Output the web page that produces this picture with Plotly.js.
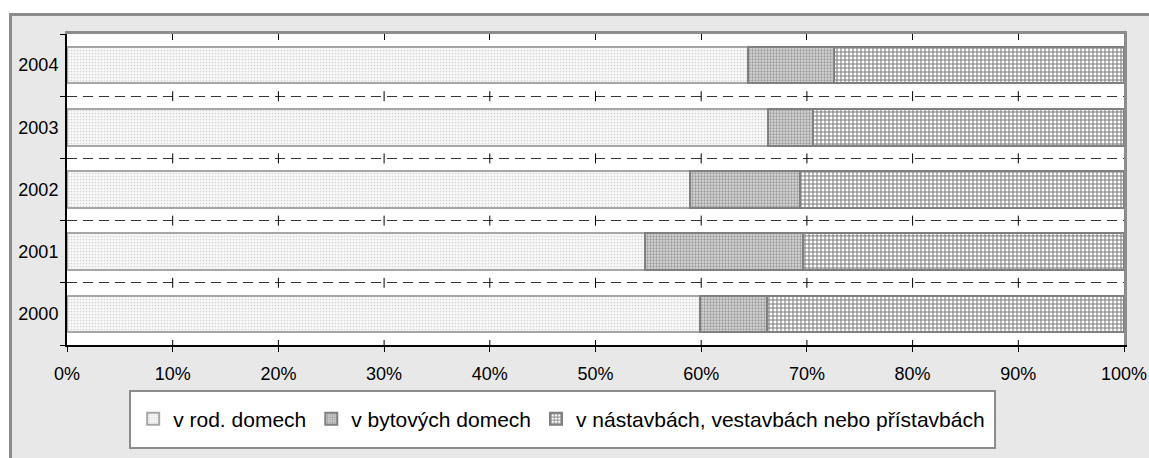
<!DOCTYPE html>
<html><head><meta charset="utf-8">
<script src="https://cdn.plot.ly/plotly-3.0.1.min.js"></script>
<style>
html,body{margin:0;padding:0;background:#fff;width:1149px;height:458px;overflow:hidden;}
#panel{position:absolute;left:9px;top:13px;width:1140px;height:445px;background:#e8e8e8;border-left:3px solid #8c8c8c;border-top:3px solid #8c8c8c;box-sizing:border-box;}
#chart{position:absolute;left:0;top:0;width:1137px;height:442px;}
</style></head><body>
<div id="panel"><div id="chart"></div></div>
<script>
// Data (percent share of completed dwellings by building type)
const years = [2000, 2001, 2002, 2003, 2004];
const rodDomy = [59.9, 54.7, 58.9, 66.3, 64.4];
const bytoveDomy = [6.3, 14.9, 10.4, 4.3, 8.2];
const nastavby = [33.8, 30.4, 30.7, 29.4, 27.4];
const seriesNames = ['v rod. domech', 'v bytových domech', 'v nástavbách, vestavbách nebo přístavbách'];
const xTicks = [0, 10, 20, 30, 40, 50, 60, 70, 80, 90, 100];
const xTickText = xTicks.map(v => v + '%');

const FONT = 'Liberation Sans, Arial, sans-serif';
const W = 0.59;

const traces = [
  {type:'bar', orientation:'h', name:seriesNames[0], y:years, x:rodDomy, width:W,
   marker:{color:'#f4f4f4', line:{color:'#a6a6a6', width:2},
     pattern:{shape:'.', fgcolor:'#d4d4d4', bgcolor:'#f8f8f8', size:3, solidity:0.25}}},
  {type:'bar', orientation:'h', name:seriesNames[1], y:years, x:bytoveDomy, width:W,
   marker:{color:'#c4c4c4', line:{color:'#808080', width:2},
     pattern:{shape:'.', fgcolor:'#9a9a9a', bgcolor:'#d8d8d8', size:3, solidity:0.45}}},
  {type:'bar', orientation:'h', name:seriesNames[2], y:years, x:nastavby, width:W,
   marker:{color:'#b0b0b0', line:{color:'#808080', width:2},
     pattern:{shape:'+', fgcolor:'#7a7a7a', bgcolor:'#ffffff', size:4, solidity:0.45}}},
  {type:'scatter', x:[], y:[], xaxis:'x2', yaxis:'y2', showlegend:false, hoverinfo:'skip'}
];

const boundaries = [];
for (let i = 0; i <= years.length; i++) boundaries.push(years[0] - 0.5 + i);
const inner = boundaries.slice(1, -1);

const shapes = [];
xTicks.slice(1, -1).forEach(x => {
  inner.forEach(b => shapes.push({type:'line', xref:'x', yref:'y', x0:x, x1:x,
    ysizemode:'pixel', yanchor:b, y0:-5, y1:5, line:{color:'#000', width:1}}));
  shapes.push({type:'line', xref:'x', yref:'y', x0:x, x1:x,
    ysizemode:'pixel', yanchor:boundaries[0], y0:0, y1:5, line:{color:'#000', width:1}});
});
// legend frame
shapes.push({type:'rect', xref:'paper', yref:'paper', x0:0.0596, x1:0.878, y0:-0.3312, y1:-0.1479,
  fillcolor:'#ffffff', line:{color:'#8c8c8c', width:2}, layer:'below'});

const layout = {
  width:1137, height:442,
  margin:{l:55, r:25, t:18, b:113},
  paper_bgcolor:'#e8e8e8', plot_bgcolor:'#ffffff',
  barmode:'stack',
  showlegend:true,
  hovermode:false,
  font:{family:FONT, color:'#000', size:18},
  xaxis:{range:[0,100], tickmode:'array', tickvals:xTicks, ticktext:xTickText,
    ticks:'outside', ticklen:5, tickwidth:1, tickcolor:'#000', ticklabelstandoff:6,
    showline:true, linecolor:'#000', linewidth:2, showgrid:false, zeroline:false,
    tickfont:{family:FONT, size:18, color:'#000'}, fixedrange:true},
  yaxis:{range:[boundaries[0], boundaries[boundaries.length-1]], tickmode:'array',
    tickvals:years, ticktext:years.map(String), ticks:'', ticklabelstandoff:3,
    showline:true, linecolor:'#000', linewidth:2, showgrid:false, zeroline:false,
    tickfont:{family:FONT, size:18, color:'#000'}, fixedrange:true,
    minor:{tickmode:'array', tickvals:boundaries, ticks:'outside', ticklen:5, tickwidth:1, tickcolor:'#000',
      showgrid:true, gridcolor:'#333', gridwidth:1, griddash:'10px,6px'}},
  xaxis2:{overlaying:'x', side:'top', anchor:'y', range:[0,100], tickmode:'array', tickvals:xTicks,
    ticks:'inside', ticklen:6, tickwidth:1, tickcolor:'#000', showticklabels:false,
    showline:true, linecolor:'#8c8c8c', linewidth:3, showgrid:false, zeroline:false, fixedrange:true},
  yaxis2:{overlaying:'y', side:'right', anchor:'x', range:[boundaries[0], boundaries[boundaries.length-1]],
    ticks:'', showticklabels:false, showline:true, linecolor:'#8c8c8c', linewidth:3,
    showgrid:false, zeroline:false, fixedrange:true},
  legend:{orientation:'h', traceorder:'normal', x:0.468, xanchor:'center', y:-0.238, yanchor:'middle',
    bgcolor:'rgba(0,0,0,0)', borderwidth:0,
    font:{family:FONT, size:21, color:'#000'}},
  shapes:shapes
};

Plotly.newPlot('chart', traces, layout, {displayModeBar:false, staticPlot:true});
</script>
</body></html>
